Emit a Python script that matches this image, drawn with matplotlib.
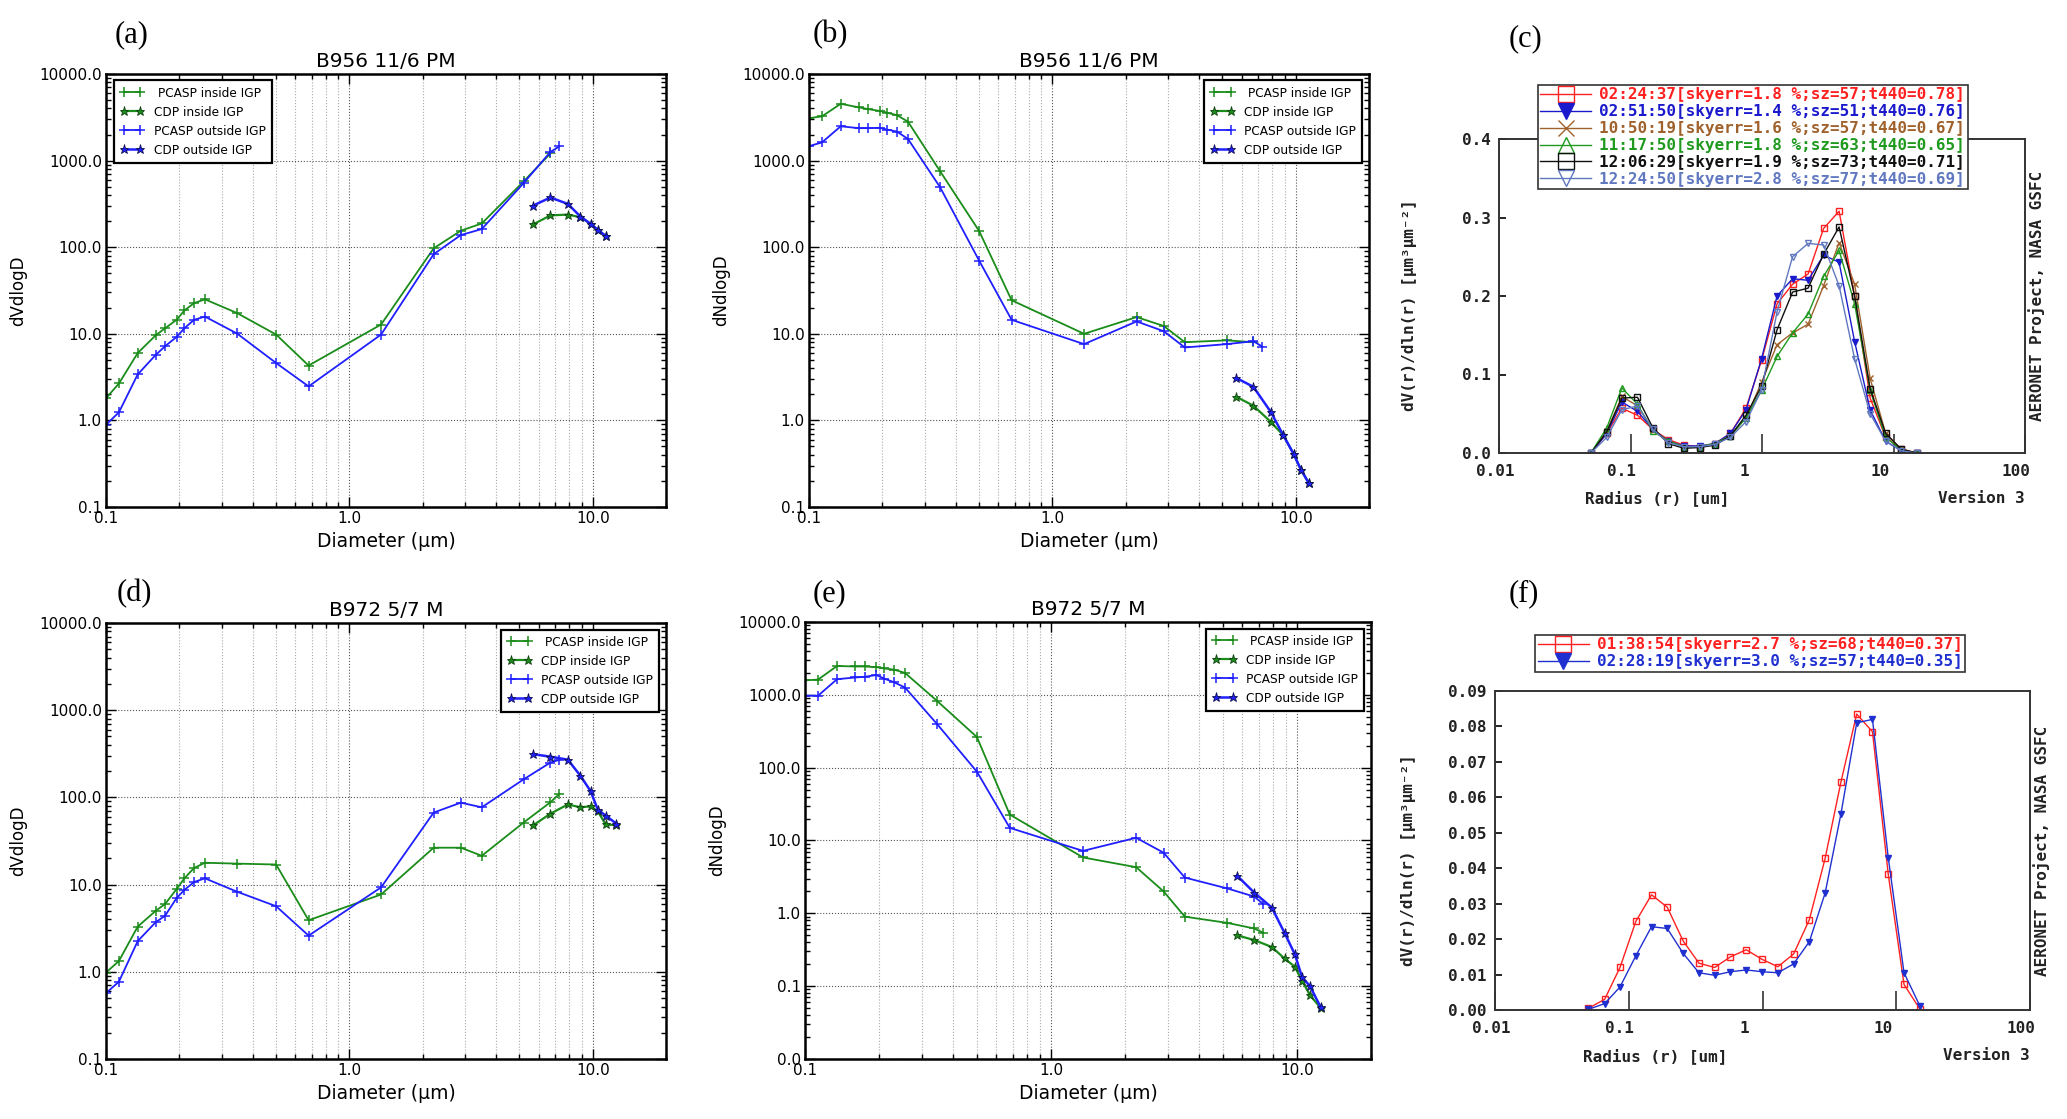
import matplotlib
matplotlib.use('Agg')
import matplotlib.pyplot as plt
from matplotlib.transforms import ScaledTranslation
from matplotlib.ticker import LogLocator, FormatStrFormatter, NullFormatter, FixedLocator

W, H = 2067, 1119

# ---- aircraft size distributions (panels a, b, d, e) ----
pcasp_d = [0.10, 0.113, 0.135, 0.16, 0.175, 0.195, 0.21, 0.23, 0.255, 0.345,
           0.50, 0.68, 1.35, 2.22, 2.87, 3.5, 5.2, 6.7, 7.3]
cdp_d = [5.7, 6.7, 7.9, 8.9, 9.8, 10.5, 11.3, 12.5]

a_pcasp_in = [1.8, 2.67, 6.0, 9.6, 11.6, 14.5, 18.6, 22.6, 25, 17.4, 9.8, 4.3, 12.8, 97, 155, 188, 575, 1210]
a_pcasp_out = [0.89, 1.24, 3.4, 5.7, 7.2, 9.2, 11.6, 14.5, 15.8, 10.1, 4.6, 2.47, 9.8, 83, 138, 162, 550, 1260, 1460]
a_cdp_in = [184, 233, 238, 222, 186, 158, 135]
a_cdp_out = [303, 375, 316, 226, 186, 158, 135]

b_pcasp_in = [3090, 3240, 4530, 4120, 3930, 3750, 3570, 3340, 2820, 760, 154, 24.4, 10.0, 15.6, 12.3, 8.0, 8.4, 8.0]
b_pcasp_out = [1470, 1620, 2490, 2370, 2370, 2390, 2280, 2160, 1780, 497, 70, 14.5, 7.6, 13.9, 10.7, 6.95, 7.6, 8.2, 7.1]
b_cdp_in = [1.87, 1.48, 0.96, 0.67, 0.41, 0.27, 0.19]
b_cdp_out = [3.09, 2.44, 1.25, 0.67, 0.41, 0.27, 0.19]

d_pcasp_in = [0.98, 1.33, 3.3, 5.0, 6.0, 8.9, 11.8, 15.5, 17.8, 17.4, 17.0, 3.9, 7.7, 26.5, 26.5, 21.4, 51.5, 88, 110]
d_pcasp_out = [0.57, 0.77, 2.25, 3.7, 4.4, 7.0, 8.7, 10.7, 11.8, 8.3, 5.65, 2.6, 9.3, 67, 87, 77, 161, 251, 270]
d_cdp_in = [48, 65, 83, 77, 79, 69, 49, 48]
d_cdp_out = [313, 293, 271, 177, 118, 72, 62, 50]

e_pcasp_in = [1580, 1620, 2490, 2450, 2450, 2400, 2300, 2220, 2000, 820, 263, 22.7, 5.85, 4.3, 2.0, 0.9, 0.74, 0.62, 0.54]
e_pcasp_out = [973, 973, 1640, 1730, 1770, 1870, 1670, 1490, 1260, 394, 88, 14.9, 7.2, 10.9, 6.8, 3.1, 2.2, 1.7, 1.34]
e_cdp_in = [0.50, 0.43, 0.345, 0.24, 0.185, 0.118, 0.075, 0.05]
e_cdp_out = [3.3, 1.93, 1.2, 0.54, 0.275, 0.132, 0.1, 0.051]

legend_labels = [' PCASP inside IGP', 'CDP inside IGP', 'PCASP outside IGP', 'CDP outside IGP']

# ---- AERONET inversions (panels c, f) ----
radius = [0.050, 0.066, 0.086, 0.113, 0.148, 0.194, 0.255, 0.335, 0.439, 0.576, 0.756,
          0.992, 1.302, 1.708, 2.241, 2.940, 3.857, 5.061, 6.641, 8.713, 11.432, 15.000]
radius_ticks = [0.01, 0.1, 1, 10, 100]
radius_ticklabels = ['0.01', '0.1', '1', '10', '100']

c_labels = ['02:24:37[skyerr=1.8 %;sz=57;t440=0.78]',
            '02:51:50[skyerr=1.4 %;sz=51;t440=0.76]',
            '10:50:19[skyerr=1.6 %;sz=57;t440=0.67]',
            '11:17:50[skyerr=1.8 %;sz=63;t440=0.65]',
            '12:06:29[skyerr=1.9 %;sz=73;t440=0.71]',
            '12:24:50[skyerr=2.8 %;sz=77;t440=0.69]']
c_vals = [
    [0.0, 0.025, 0.057, 0.048, 0.030, 0.017, 0.010, 0.008, 0.012, 0.025, 0.057, 0.118, 0.190, 0.215, 0.228, 0.286, 0.308, 0.200, 0.070, 0.020, 0.005, 0.0],
    [0.0, 0.025, 0.065, 0.053, 0.030, 0.015, 0.009, 0.009, 0.012, 0.025, 0.055, 0.120, 0.200, 0.222, 0.220, 0.252, 0.243, 0.142, 0.055, 0.015, 0.003, 0.0],
    [0.0, 0.028, 0.072, 0.060, 0.030, 0.015, 0.008, 0.008, 0.012, 0.022, 0.045, 0.090, 0.138, 0.153, 0.164, 0.213, 0.268, 0.215, 0.095, 0.025, 0.005, 0.0],
    [0.0, 0.032, 0.083, 0.062, 0.028, 0.015, 0.008, 0.008, 0.012, 0.022, 0.045, 0.080, 0.123, 0.153, 0.177, 0.225, 0.258, 0.190, 0.080, 0.020, 0.004, 0.0],
    [0.0, 0.027, 0.070, 0.071, 0.032, 0.012, 0.006, 0.007, 0.010, 0.022, 0.048, 0.085, 0.157, 0.205, 0.210, 0.253, 0.288, 0.200, 0.082, 0.025, 0.005, 0.0],
    [0.0, 0.020, 0.055, 0.060, 0.030, 0.013, 0.008, 0.008, 0.011, 0.020, 0.040, 0.080, 0.180, 0.250, 0.267, 0.265, 0.213, 0.120, 0.050, 0.015, 0.003, 0.0],
]
c_colors = ['#ff2020', '#1a1acc', '#a0622d', '#1f9a1f', '#101010', '#6078c0']
c_markers = ['s', 'v', 'x', '^', 's', 'v']
c_filled = [False, True, True, False, False, False]

f_labels = ['01:38:54[skyerr=2.7 %;sz=68;t440=0.37]',
            '02:28:19[skyerr=3.0 %;sz=57;t440=0.35]']
f_vals = [
    [0.0005, 0.003, 0.012, 0.025, 0.0325, 0.029, 0.0195, 0.0132, 0.012, 0.015, 0.017, 0.0143, 0.0122, 0.0158, 0.0255, 0.0428, 0.0643, 0.0835, 0.0785, 0.0383, 0.0072, 0.0003],
    [0.0002, 0.0018, 0.0065, 0.0153, 0.0235, 0.023, 0.016, 0.0105, 0.0098, 0.0108, 0.0113, 0.0108, 0.0105, 0.013, 0.0193, 0.033, 0.0553, 0.081, 0.082, 0.043, 0.0105, 0.0012],
]
f_colors = ['#ff2020', '#2030d0']
f_markers = ['s', 'v']
f_filled = [False, True]


def box(l, t, r, b):
    return [l / W, 1 - b / H, (r - l) / W, (b - t) / H]


fig = plt.figure(figsize=(W / 100, H / 100), dpi=100)
fig.patch.set_facecolor('white')


def aircraft_panel(rect, pin, pout, cin, cout, ylabel, title, loc, anchor, ymin):
    ax = fig.add_axes(rect)
    green, blue = '#1a8c1a', '#1f1fff'
    ax.plot(pcasp_d[:len(pin)], pin, color=green, marker='+', ms=7.5, mew=1.1, lw=1.3, label=legend_labels[0])
    ax.plot(cdp_d[:len(cin)], cin, color=green, marker='*', ms=6.5, mec='#104010', mew=0.6, lw=1.6, label=legend_labels[1])
    ax.plot(pcasp_d[:len(pout)], pout, color=blue, marker='+', ms=7.5, mew=1.1, lw=1.3, label=legend_labels[2])
    ax.plot(cdp_d[:len(cout)], cout, color=blue, marker='*', ms=6.5, mec='#101050', mew=0.6, lw=1.8, label=legend_labels[3])
    ax.set_xscale('log')
    ax.set_yscale('log')
    ax.set_xlim(0.1, 20)
    ax.set_ylim(ymin, 10000)
    ax.xaxis.set_major_formatter(FormatStrFormatter('%.1f'))
    ax.yaxis.set_major_formatter(FormatStrFormatter('%.1f'))
    ax.xaxis.set_minor_formatter(NullFormatter())
    ax.yaxis.set_major_locator(LogLocator(base=10, numticks=12))
    ax.yaxis.set_minor_locator(LogLocator(base=10, subs=range(2, 10), numticks=12))
    ax.yaxis.set_minor_formatter(NullFormatter())
    ax.tick_params(which='both', direction='in', top=True, right=True, labelsize=11, width=1)
    ax.tick_params(which='major', length=7, pad=3)
    ax.tick_params(which='minor', length=3.5)
    ax.grid(which='major', ls=':', color='#555555', lw=0.8)
    ax.grid(which='minor', axis='x', ls=':', color='#aaaaaa', lw=0.8)
    for s in ax.spines.values():
        s.set_linewidth(1.8)
    ax.set_xlabel('Diameter (\u03bcm)', fontsize=13.5, labelpad=4)
    ax.set_ylabel(ylabel, fontsize=12)
    ax.yaxis.set_label_coords(-0.14, 0.5)
    ax.set_title(title, fontsize=14.5, pad=5)
    leg = ax.legend(loc=loc, bbox_to_anchor=anchor, fontsize=8.7, numpoints=2, handlelength=2.0,
                    labelspacing=0.5, handletextpad=0.8, borderpad=0.5, fancybox=False,
                    framealpha=1, edgecolor='k', borderaxespad=0)
    leg.get_frame().set_linewidth(1.6)
    return ax


aircraft_panel(box(106, 74, 666, 507), a_pcasp_in, a_pcasp_out, a_cdp_in, a_cdp_out,
               'dVdlogD', 'B956 11/6 PM', 'upper left', (0.014, 0.985), 0.1)
aircraft_panel(box(809, 74, 1369, 507), b_pcasp_in, b_pcasp_out, b_cdp_in, b_cdp_out,
               'dNdlogD', 'B956 11/6 PM', 'upper right', (0.988, 0.985), 0.1)
aircraft_panel(box(106, 623, 666, 1059), d_pcasp_in, d_pcasp_out, d_cdp_in, d_cdp_out,
               'dVdlogD', 'B972 5/7 M', 'upper right', (0.988, 0.985), 0.1)
aircraft_panel(box(805, 622, 1371, 1059), e_pcasp_in, e_pcasp_out, e_cdp_in, e_cdp_out,
               'dNdlogD', 'B972 5/7 M', 'upper right', (0.988, 0.985), 0.01)

mono = ['DejaVu Sans Mono', 'DejaVu Sans']
ink = '#222222'
# the AERONET tick labels sit a little left of their ticks (pixels)
label_shift = [-4, -9, -18, -13, -9]


def aeronet_panel(rect, vals, labels, colors, markers, filled, ymax, yticks, yfmt, leg_anchor, ylab_x):
    ax = fig.add_axes(rect)
    for v, lab, c, m, fl in zip(vals, labels, colors, markers, filled):
        ax.plot(radius, v, color=c, marker=m, ms=5, lw=1.0, mew=1.0,
                mfc=c if fl else 'none', mec=c, label=lab)
    ax.set_xscale('log')
    ax.set_xlim(0.01, 100)
    ax.set_ylim(0, ymax)
    ax.xaxis.set_major_locator(FixedLocator(radius_ticks))
    ax.xaxis.set_minor_locator(FixedLocator([]))
    ax.set_yticks(yticks)
    ax.yaxis.set_major_formatter(FormatStrFormatter(yfmt))
    ax.tick_params(axis='x', direction='in', length=14, width=1.2, colors='#333333', labelbottom=False)
    ax.tick_params(axis='y', direction='in', length=5, width=1.2, pad=6, labelsize=11.5)
    for lab in ax.get_yticklabels():
        lab.set_fontfamily(mono)
        lab.set_fontweight('bold')
        lab.set_color(ink)
    for xv, txt, dx in zip(radius_ticks, radius_ticklabels, label_shift):
        ax.text(xv, -0.035, txt, ha='center', va='top', family=mono, weight='bold', fontsize=11.5, color=ink,
                transform=ax.get_xaxis_transform() + ScaledTranslation(dx / 100, 0, fig.dpi_scale_trans))
    for s in ax.spines.values():
        s.set_linewidth(1.4)
        s.set_color('#333333')
    ax.set_ylabel('dV(r)/dln(r) [\u00b5m\u00b3\u00b5m\u207b\u00b2]', family=mono, weight='bold',
                  fontsize=11.5, color=ink)
    ax.yaxis.set_label_coords(ylab_x, 0.47)
    ax.text(0.3, -0.12, 'Radius (r) [um]', transform=ax.transAxes, ha='center', va='top',
            family=mono, weight='bold', fontsize=11.5, color=ink)
    ax.text(1.0, -0.12, 'Version 3', transform=ax.transAxes, ha='right', va='top',
            family=mono, weight='bold', fontsize=11.5, color=ink)
    ax.text(1.022, 0.5, 'AERONET Project, NASA GSFC', transform=ax.transAxes, ha='center', va='center',
            rotation=90, family=mono, weight='bold', fontsize=11.5, color=ink)
    leg = ax.legend(loc='upper left', bbox_to_anchor=leg_anchor, prop={'family': mono, 'weight': 'bold', 'size': 11.5},
                    handlelength=3.2, handletextpad=0.5, labelspacing=0.12, borderpad=0.15,
                    markerscale=2.2, fancybox=False, framealpha=1, edgecolor='#333333', borderaxespad=0)
    leg.get_frame().set_linewidth(1.2)
    for t, c in zip(leg.get_texts(), colors):
        t.set_color(c)
    return ax


aeronet_panel(box(1499, 139, 2025, 453), c_vals, c_labels, c_colors, c_markers, c_filled,
              0.4, [0.0, 0.1, 0.2, 0.3, 0.4], '%.1f', (0.074, 1.172), -0.155)
aeronet_panel(box(1495, 691, 2030, 1010), f_vals, f_labels, f_colors, f_markers, f_filled,
              0.09, [0.0, 0.01, 0.02, 0.03, 0.04, 0.05, 0.06, 0.07, 0.08, 0.09], '%.2f', (0.075, 1.176), -0.148)

# panel letters
for lab, x, y in [('(a)', 132, 35), ('(b)', 830, 35), ('(c)', 1526, 39),
                  ('(d)', 134, 594), ('(e)', 829, 594), ('(f)', 1524, 594)]:
    fig.text(x / W, 1 - y / H, lab, ha='center', va='center', family='Liberation Serif', fontsize=22)

fig.savefig('out.png', dpi=100, facecolor='white')
